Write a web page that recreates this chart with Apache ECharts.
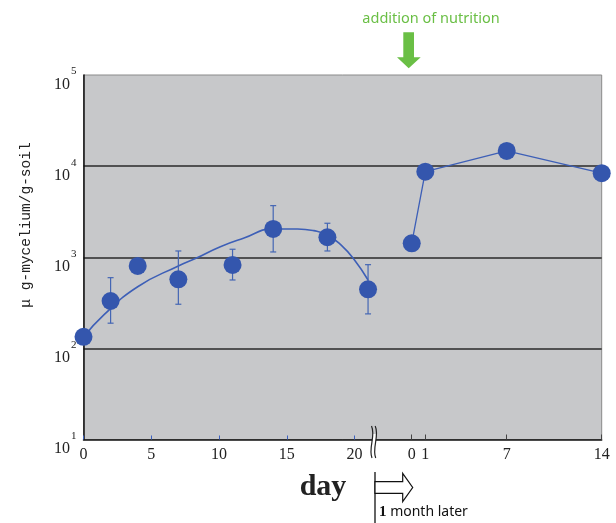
<!DOCTYPE html>
<html>
<head>
<meta charset="utf-8">
<script src="https://cdn.jsdelivr.net/npm/echarts@6/dist/echarts.min.js"></script>
<style>html,body{margin:0;padding:0;background:#fff;}#c{width:616px;height:523px;}</style>
</head>
<body>
<div id="c"></div>
<script>
// ---- data ----
var days1 = [0, 2, 4, 7, 11, 14, 18, 21];
var mean1 = [134, 331, 803, 573, 823, 2045, 1658, 445];
var errLow1 = [null, 189, null, 305, 563, 1143, 1172, 239];
var errHigh1 = [null, 597, null, 1172, 1224, 3685, 2361, 829];
var curveDays = [0, 1.5, 4, 7, 8.3, 10.1, 11.8, 14, 15.8, 17, 18, 19, 20, 21];
var curveVals = [133, 233, 475, 803, 975, 1307, 1617, 2045, 2045, 1959, 1757, 1365, 934, 563];
var days2 = [0, 1, 7, 14];
var vals2 = [1424, 8700, 14690, 8356];
var xTicks1 = [0, 5, 10, 15, 20];
var xTicks2 = [0, 1, 7, 14];

var chart = echarts.init(document.getElementById('c'), null, {renderer: 'canvas'});

var BLUE = '#3456ad';
var LINE = '#3d5fb7';
var GRAY = '#c7c8ca';
var TOP = 75, BOT = 439.5, X0 = 83.5, XB = 375, XR = 601.7;
var PX = 13.55;
var H = BOT - TOP;

function pairs(a, b) { return a.map(function (v, i) { return [v, b[i]]; }); }
var errData = [];
days1.forEach(function (d, i) { if (errLow1[i] != null) errData.push([d, errLow1[i], errHigh1[i]]); });

var logY = function (show) {
  return {
    type: 'log', logBase: 10, min: 10, max: 100000,
    show: show
  };
};

var y0 = logY(true);
y0.gridIndex = 0;
y0.axisLine = {show: true, lineStyle: {color: '#111', width: 1.5}};
y0.axisTick = {show: false};
y0.splitLine = {show: true, showMinLine: false, showMaxLine: false, lineStyle: {color: '#2a2a2a', width: 1.5}};
y0.axisLabel = {
  margin: 7,
  formatter: function (v) { return '{b|10}{s|' + Math.round(Math.log10(v)) + '}'; },
  rich: {
    b: {fontFamily: 'Liberation Serif', fontSize: 16, lineHeight: 16, color: '#222', padding: [19, 0, 0, 0]},
    s: {fontFamily: 'Liberation Serif', fontSize: 11, lineHeight: 10, color: '#222', padding: [0, 0, 7, 1]}
  }
};

var y1 = logY(false); y1.gridIndex = 1;
var y2 = logY(false); y2.gridIndex = 2;

var labelStyle = {fontFamily: 'Liberation Serif', fontSize: 16, color: '#222', margin: 7};

var option = {
  animation: false,
  grid: [
    {left: X0, top: TOP, width: XR - X0, height: H, show: true, backgroundColor: GRAY, borderColor: '#8a8a8a', borderWidth: 1},
    {left: X0, top: TOP, width: XB - X0, height: H, show: false},
    {left: XB, top: TOP, width: XR - XB, height: H, show: false}
  ],
  xAxis: [
    {gridIndex: 0, type: 'value', min: 0, max: 1, show: false},
    {gridIndex: 1, type: 'value', min: 0, max: (XB - X0) / PX,
      axisLine: {show: true, lineStyle: {color: '#111', width: 1.5}},
      axisTick: {show: true, inside: true, length: 4, customValues: xTicks1, lineStyle: {color: '#3d62c0', width: 1}},
      axisLabel: Object.assign({customValues: xTicks1}, labelStyle),
      splitLine: {show: false}},
    {gridIndex: 2, type: 'value', min: -(411.7 - XB) / PX, max: 14,
      axisLine: {show: true, lineStyle: {color: '#111', width: 1.5}},
      axisTick: {show: true, inside: true, length: 5, customValues: xTicks2, lineStyle: {color: '#444', width: 1}},
      axisLabel: Object.assign({customValues: xTicks2, showMaxLabel: true}, labelStyle),
      splitLine: {show: false}}
  ],
  yAxis: [y0, y1, y2],
  series: [
    {
      type: 'line', xAxisIndex: 1, yAxisIndex: 1, data: pairs(curveDays, curveVals),
      smooth: 0.5, showSymbol: false, symbol: 'none', clip: false,
      lineStyle: {color: LINE, width: 1.6}, z: 3
    },
    {
      type: 'custom', xAxisIndex: 1, yAxisIndex: 1, data: errData, clip: false, z: 4,
      renderItem: function (params, api) {
        var x = api.value(0);
        var pLo = api.coord([x, api.value(1)]);
        var pHi = api.coord([x, api.value(2)]);
        var w = 3;
        var st = {stroke: '#4466b4', lineWidth: 1.2};
        return {type: 'group', children: [
          {type: 'line', shape: {x1: pLo[0], y1: pLo[1], x2: pHi[0], y2: pHi[1]}, style: st},
          {type: 'line', shape: {x1: pHi[0] - w, y1: pHi[1], x2: pHi[0] + w, y2: pHi[1]}, style: st},
          {type: 'line', shape: {x1: pLo[0] - w, y1: pLo[1], x2: pLo[0] + w, y2: pLo[1]}, style: st}
        ]};
      }
    },
    {
      type: 'scatter', xAxisIndex: 1, yAxisIndex: 1, data: pairs(days1, mean1),
      symbol: 'circle', symbolSize: 18, clip: false, z: 5,
      itemStyle: {color: BLUE, opacity: 1}
    },
    {
      type: 'line', xAxisIndex: 2, yAxisIndex: 2, data: pairs(days2, vals2),
      symbol: 'circle', symbolSize: 18, showSymbol: true, clip: false, z: 5,
      lineStyle: {color: LINE, width: 1.3},
      itemStyle: {color: BLUE, opacity: 1}
    }
  ],
  graphic: [
    {type: 'text', x: 26, y: 225, rotation: Math.PI / 2, z: 10,
      style: {text: 'μ g-mycelium/g-soil', fontFamily: 'Liberation Mono', fontSize: 14.5, fill: '#222', align: 'center', verticalAlign: 'middle'}},
    {type: 'text', x: 431, y: 19, z: 10,
      style: {text: 'addition of nutrition', fontFamily: 'Noto Sans', fontSize: 14.5, fill: '#6abf45', align: 'center', verticalAlign: 'middle'}},
    {type: 'polygon', z: 10,
      shape: {points: [[403.3, 32.3], [414, 32.3], [414, 57.3], [420.7, 57.3], [408.7, 68.3], [397, 57.3], [403.3, 57.3]]},
      style: {fill: '#6abf45'}},
    {type: 'rect', z: 20, shape: {x: 372.3, y: 434, width: 3.6, height: 11}, style: {fill: '#fff'}},
    {type: 'bezierCurve', z: 21,
      shape: {x1: 371.5, y1: 426, cpx1: 376, cpy1: 436, cpx2: 368, cpy2: 448, x2: 372, y2: 458},
      style: {stroke: '#222', lineWidth: 1.2, fill: null}},
    {type: 'bezierCurve', z: 21,
      shape: {x1: 375.2, y1: 426, cpx1: 379.7, cpy1: 436, cpx2: 371.7, cpy2: 448, x2: 375.7, y2: 458},
      style: {stroke: '#222', lineWidth: 1.2, fill: null}},
    {type: 'text', x: 323, y: 487, z: 10,
      style: {text: 'day', fontFamily: 'Liberation Serif', fontWeight: 'bold', fontSize: 30, fill: '#222', align: 'center', verticalAlign: 'middle'}},
    {type: 'line', z: 10, shape: {x1: 375, y1: 472, x2: 375, y2: 523}, style: {stroke: '#111', lineWidth: 1.3}},
    {type: 'polygon', z: 10,
      shape: {points: [[375, 481.7], [402.7, 481.7], [402.7, 473.3], [412.7, 487.5], [402.7, 501.7], [402.7, 493.3], [375, 493.3]]},
      style: {fill: '#fff', stroke: '#111', lineWidth: 1.2}},
    {type: 'text', x: 379, y: 512, z: 10,
      style: {text: '{n|1} month later', fill: '#111', fontFamily: 'Noto Sans', fontSize: 14, verticalAlign: 'middle',
        rich: {n: {fontFamily: 'Liberation Serif', fontWeight: 'bold', fontSize: 15, fill: '#111'}}}}
  ]
};
chart.setOption(option);
</script>
</body>
</html>
